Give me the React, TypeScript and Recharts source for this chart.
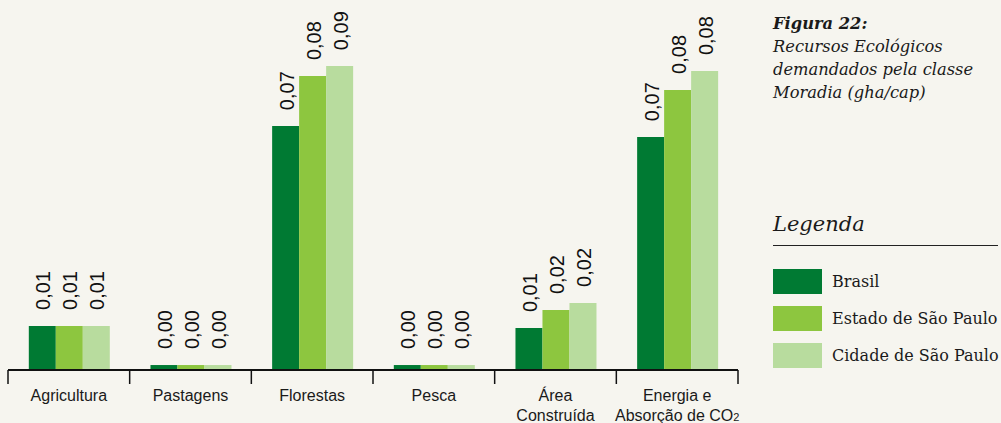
import React from "react";
import { BarChart, Bar, XAxis, YAxis, LabelList, Legend } from "recharts";

const categories = ["Agricultura", "Pastagens", "Florestas", "Pesca", "Área\nConstruída", "Energia e\nAbsorção de CO₂"];
const brasil = [0.0124, 0.0014, 0.0687, 0.0014, 0.0118, 0.0656];
const estadoSP = [0.0124, 0.0014, 0.0828, 0.0014, 0.0169, 0.0789];
const cidadeSP = [0.0124, 0.0014, 0.0856, 0.0014, 0.0189, 0.0842];
const seriesNames = ["Brasil", "Estado de São Paulo", "Cidade de São Paulo"];
const seriesColors = ["#007a33", "#8dc63f", "#b8dc9e"];
const titleLines = ["Recursos Ecológicos", "demandados pela classe", "Moradia (gha/cap)"];

const data = categories.map((c, i) => ({
  name: c,
  brasil: brasil[i],
  estado: estadoSP[i],
  cidade: cidadeSP[i],
}));

const BG = "#f6f5ef";
const SANS = "'Liberation Sans', Arial, sans-serif";
const SERIF = "'DejaVu Serif', Georgia, serif";

const fmt = (v: number) => Number(v).toFixed(2).replace(".", ",");

const ValueLabel = (props: any) => {
  const { x, y, width, value } = props;
  const cx = Number(x) + Number(width) / 2 + 8;
  const cy = Number(y) - 16;
  return (
    <text
      x={cx}
      y={cy}
      transform={`rotate(-90 ${cx} ${cy})`}
      fontSize={20}
      fontFamily={SANS}
      fill="#111"
      textAnchor="start"
    >
      {fmt(value)}
    </text>
  );
};

const CategoryTick = (props: any) => {
  const { x, y, payload, index } = props;
  const lines = String(payload.value).split("\n");
  const half = Number(payload.offset) || 0;
  const isLast = index === categories.length - 1;
  const y0 = Number(y);
  return (
    <g>
      <line x1={x - half} x2={x - half} y1={y0} y2={y0 + 14} stroke="#111" strokeWidth={1.5} />
      {isLast ? <line x1={x + half} x2={x + half} y1={y0} y2={y0 + 14} stroke="#111" strokeWidth={1.5} /> : null}
      {lines.map((ln, i) => {
        const parts = ln.split("₂");
        return (
          <text
            key={i}
            x={x}
            y={y0 + 31 + i * 20}
            textAnchor="middle"
            fontSize={16}
            fontFamily={SANS}
            fill="#1a1a1a"
          >
            {parts[0]}
            {parts.length > 1 ? <tspan fontSize={11}>2</tspan> : null}
          </text>
        );
      })}
    </g>
  );
};

const LegendContent = (props: any) => {
  const payload = [...(props.payload || [])].sort(
    (a: any, b: any) => seriesNames.indexOf(a.value) - seriesNames.indexOf(b.value)
  );
  return (
    <div style={{ fontFamily: SERIF, color: "#1a1a1a" }}>
      <div style={{ fontStyle: "italic", fontSize: 21, lineHeight: "30px", height: 30 }}>Legenda</div>
      <div style={{ borderTop: "1.5px solid #222", marginTop: 6, width: 225 }} />
      <div style={{ marginTop: 23 }}>
        {payload.map((p: any, i: number) => (
          <div key={i} style={{ display: "flex", alignItems: "center", height: 25, marginBottom: 12 }}>
            <div style={{ width: 49, height: 25, background: p.color }} />
            <span style={{ marginLeft: 10, fontSize: 16, whiteSpace: "nowrap" }}>{p.value}</span>
          </div>
        ))}
      </div>
    </div>
  );
};

export default function App() {
  return (
    <div style={{ position: "fixed", left: 0, top: 0, width: 1001, height: 423, background: BG, overflow: "hidden" }}>
      <div
        style={{
          position: "absolute",
          left: 773,
          top: 12,
          fontFamily: SERIF,
          fontStyle: "italic",
          fontSize: 16.3,
          lineHeight: "23px",
          color: "#1a1a1a",
          whiteSpace: "nowrap",
        }}
      >
        <div style={{ fontWeight: "bold" }}>Figura 22:</div>
        {titleLines.map((t, i) => (
          <div key={i}>{t}</div>
        ))}
      </div>
      <BarChart
        width={1001}
        height={423}
        data={data}
        margin={{ top: 15, right: 263, bottom: 0, left: 8 }}
        barGap={0}
        barCategoryGap="17.1%"
      >
        <XAxis
          dataKey="name"
          type="category"
          height={53}
          interval={0}
          tickLine={false}
          tickSize={0}
          tickMargin={0}
          axisLine={{ stroke: "#111", strokeWidth: 2 }}
          tick={<CategoryTick />}
        />
        <YAxis hide domain={[0, 0.1]} />
        <Legend
          layout="vertical"
          align="center"
          verticalAlign="middle"
          wrapperStyle={{ left: 773, top: 209, width: 228 }}
          content={<LegendContent />}
        />
        <Bar dataKey="brasil" name={seriesNames[0]} fill={seriesColors[0]} isAnimationActive={false}>
          <LabelList dataKey="brasil" content={<ValueLabel />} />
        </Bar>
        <Bar dataKey="estado" name={seriesNames[1]} fill={seriesColors[1]} isAnimationActive={false}>
          <LabelList dataKey="estado" content={<ValueLabel />} />
        </Bar>
        <Bar dataKey="cidade" name={seriesNames[2]} fill={seriesColors[2]} isAnimationActive={false}>
          <LabelList dataKey="cidade" content={<ValueLabel />} />
        </Bar>
      </BarChart>
    </div>
  );
}
